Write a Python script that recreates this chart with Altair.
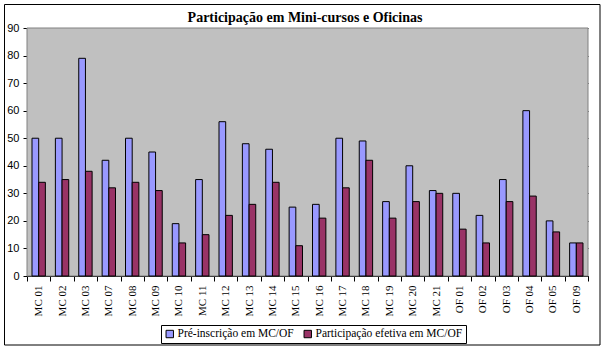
import altair as alt
import pandas as pd

categories = ["MC 01", "MC 02", "MC 03", "MC 07", "MC 08", "MC 09", "MC 10", "MC 11",
              "MC 12", "MC 13", "MC 14", "MC 15", "MC 16", "MC 17", "MC 18", "MC 19",
              "MC 20", "MC 21", "OF 01", "OF 02", "OF 03", "OF 04", "OF 05", "OF 09"]
pre_inscricao = [50, 50, 79, 42, 50, 45, 19, 35, 56, 48, 46, 25, 26, 50, 49, 27,
                 40, 31, 30, 22, 35, 60, 20, 12]
participacao = [34, 35, 38, 32, 34, 31, 12, 15, 22, 26, 34, 11, 21, 32, 42, 21,
                27, 30, 17, 12, 27, 29, 16, 12]
series = ["Pré-inscrição em MC/OF", "Participação efetiva em MC/OF"]
colors = ["#9999FF", "#993366"]
title_text = "Participação em Mini-cursos e Oficinas"

SERIF = "Liberation Serif, Times New Roman, serif"
SANS = "Liberation Sans, Arial, sans-serif"

rows = []
for i, c in enumerate(categories):
    rows.append({"cat": c, "serie": series[0], "valor": pre_inscricao[i]})
    rows.append({"cat": c, "serie": series[1], "valor": participacao[i]})
df = pd.DataFrame(rows)

W, H = 561, 248
PL, PT = 27, 28

one = pd.DataFrame({"a": [0]})

plot_bg = alt.Chart(one).mark_rect(
    color="#C0C0C0", stroke="#808080", strokeWidth=1
).encode(
    x=alt.value(0), x2=alt.value(W), y=alt.value(0), y2=alt.value(H),
)

bars = alt.Chart(df).mark_bar(stroke="black", strokeWidth=1).encode(
    x=alt.X("cat:N", sort=categories, title=None,
            scale=alt.Scale(paddingInner=0, paddingOuter=0),
            axis=alt.Axis(labelAngle=-90, labelFont=SERIF, labelFontSize=11,
                          labelColor="black", tickColor="black", domainColor="black",
                          tickBand="extent", tickSize=5, labelPadding=4, grid=False)),
    xOffset=alt.XOffset("serie:N", sort=series,
                        scale=alt.Scale(paddingInner=0, paddingOuter=0.75)),
    y=alt.Y("valor:Q", title=None,
            scale=alt.Scale(domain=[0, 90], nice=False),
            axis=alt.Axis(values=list(range(0, 91, 10)), labelFont=SANS,
                          labelFontSize=11, labelColor="black", tickColor="black",
                          domainColor="black", tickSize=4, labelPadding=4,
                          grid=True, gridColor="black", gridOpacity=1)),
    color=alt.Color("serie:N", sort=series,
                    scale=alt.Scale(domain=series, range=colors),
                    legend=alt.Legend(title=None, orient="none", legendX=134, legendY=297,
                                      direction="horizontal", symbolType="square",
                                      symbolSize=55, symbolStrokeColor="black",
                                      symbolStrokeWidth=1, symbolOpacity=1,
                                      labelFont=SERIF, labelFontSize=11.5,
                                      labelColor="black", strokeColor="black",
                                      fillColor="white", padding=3, columnPadding=8,
                                      labelOffset=2)),
)

border = alt.Chart(one).mark_rect(
    fillOpacity=0, stroke="black", strokeWidth=1, clip=False
).encode(
    x=alt.value(-PL + 4.5), x2=alt.value(W + 12),
    y=alt.value(-PT + 4.5), y2=alt.value(H + 69),
)

title = alt.Chart(pd.DataFrame({"t": [title_text]})).mark_text(
    font=SERIF, fontSize=14, fontWeight="bold", color="black",
    align="center", baseline="alphabetic", clip=False
).encode(
    text="t:N", x=alt.value(305 - PL), y=alt.value(22 - PT),
)

chart = alt.layer(plot_bg, border, bars, title).properties(
    width=W, height=H,
    padding={"left": PL, "top": PT, "right": 605 - PL - W, "bottom": 351 - PT - H},
    autosize=alt.AutoSizeParams(type="none"),
).configure(background="white").configure_view(stroke=None)

chart.save("out.html", embed_options={"renderer": "svg", "actions": False})
